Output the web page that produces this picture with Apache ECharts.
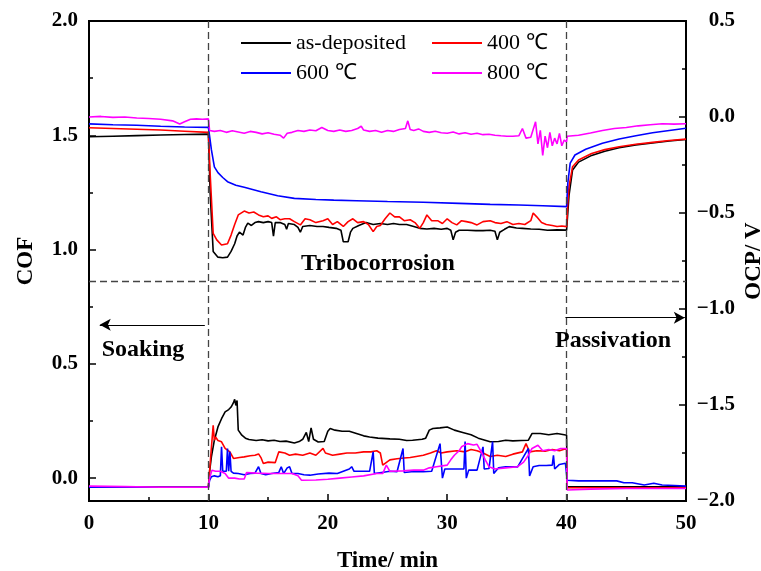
<!DOCTYPE html>
<html>
<head>
<meta charset="utf-8">
<script src="https://cdn.jsdelivr.net/npm/echarts@6/dist/echarts.min.js"></script>
<style>html,body{margin:0;padding:0;background:#fff}#c{width:761px;height:571px}</style>
</head>
<body>
<div id="c"></div>
<script>
// ---- Data (time in min) ----
const seriesNames = ['as-deposited', '400 ℃', '600 ℃', '800 ℃'];
const seriesColors = ['#000000', '#ff0000', '#0000ff', '#ff00ff'];
const xTicks = [0, 10, 20, 30, 40, 50];
const cofTicks = [0, 0.5, 1.0, 1.5, 2.0];
const cofMinorTicks = [0.25, 0.75, 1.25, 1.75];

// OCP (V), right axis
const ocpAsDep = [[0,-0.103],[2,-0.1],[4,-0.097],[6,-0.094],[8,-0.091],[10,-0.089],[10.15,-0.4],[10.4,-0.7],[10.8,-0.73],[11.2,-0.733],[11.6,-0.73],[11.9,-0.7],[12.2,-0.66],[12.4,-0.62],[12.6,-0.6],[12.7,-0.59],[12.9,-0.615],[13.1,-0.575],[13.3,-0.553],[13.6,-0.565],[13.9,-0.55],[14.2,-0.545],[14.6,-0.55],[15,-0.545],[15.3,-0.55],[15.45,-0.62],[15.6,-0.55],[16,-0.55],[16.4,-0.56],[16.55,-0.585],[16.7,-0.555],[17.2,-0.56],[17.5,-0.575],[17.7,-0.6],[17.9,-0.57],[18.5,-0.565],[19.1,-0.57],[19.6,-0.57],[20.1,-0.575],[20.7,-0.58],[21.1,-0.59],[21.3,-0.65],[21.7,-0.65],[21.9,-0.6],[22.1,-0.58],[22.6,-0.565],[23.2,-0.55],[23.8,-0.56],[24.4,-0.555],[25,-0.56],[25.5,-0.555],[26,-0.56],[26.6,-0.56],[27.2,-0.57],[27.7,-0.58],[28.3,-0.583],[28.9,-0.58],[29.5,-0.585],[30,-0.58],[30.3,-0.59],[30.5,-0.64],[30.7,-0.6],[31,-0.59],[31.7,-0.59],[32.4,-0.592],[33,-0.592],[33.6,-0.59],[34,-0.595],[34.2,-0.64],[34.4,-0.6],[34.8,-0.585],[35.2,-0.571],[35.8,-0.578],[36.3,-0.58],[37,-0.583],[37.7,-0.585],[38.4,-0.59],[39.2,-0.588],[40,-0.589],[40.1,-0.5],[40.2,-0.41],[40.5,-0.276],[41,-0.235],[42.1,-0.2],[43.2,-0.178],[44.4,-0.16],[45.8,-0.145],[47.2,-0.135],[48.6,-0.125],[50,-0.117]];
const ocp400 = [[0,-0.056],[2,-0.06],[4,-0.064],[6,-0.068],[8,-0.074],[10,-0.08],[10.15,-0.3],[10.4,-0.606],[10.7,-0.64],[11.1,-0.667],[11.6,-0.66],[11.9,-0.615],[12.2,-0.56],[12.5,-0.51],[13,-0.49],[13.4,-0.5],[13.8,-0.495],[14.2,-0.51],[14.6,-0.52],[15,-0.515],[15.3,-0.528],[15.7,-0.52],[16,-0.535],[16.4,-0.53],[16.8,-0.53],[17.2,-0.545],[17.7,-0.562],[18.1,-0.53],[18.5,-0.535],[19,-0.55],[19.6,-0.54],[20,-0.53],[20.4,-0.56],[20.8,-0.545],[21.3,-0.57],[21.7,-0.545],[22.1,-0.53],[22.5,-0.55],[23,-0.545],[23.4,-0.56],[23.8,-0.597],[24.1,-0.57],[24.4,-0.565],[24.8,-0.53],[25.2,-0.5],[25.6,-0.52],[26,-0.52],[26.4,-0.54],[26.9,-0.535],[27.3,-0.55],[27.7,-0.58],[28,-0.55],[28.3,-0.51],[28.7,-0.54],[29.2,-0.54],[29.6,-0.555],[30,-0.53],[30.4,-0.55],[30.8,-0.562],[31.2,-0.54],[31.6,-0.545],[32,-0.55],[32.5,-0.562],[33,-0.545],[33.6,-0.54],[34,-0.55],[34.5,-0.555],[35,-0.545],[35.5,-0.56],[36,-0.555],[36.5,-0.56],[37,-0.54],[37.2,-0.5],[37.5,-0.52],[37.9,-0.55],[38.3,-0.56],[38.8,-0.565],[39.2,-0.57],[39.6,-0.568],[40,-0.571],[40.1,-0.45],[40.2,-0.363],[40.5,-0.259],[41,-0.224],[42.1,-0.19],[43.2,-0.17],[44.4,-0.155],[45.8,-0.142],[47.2,-0.132],[48.6,-0.122],[50,-0.115]];
const ocp600 = [[0,-0.036],[2,-0.04],[4,-0.043],[6,-0.048],[8,-0.052],[10,-0.054],[10.1,-0.1],[10.25,-0.17],[10.5,-0.26],[10.8,-0.29],[11.2,-0.315],[11.6,-0.337],[12.3,-0.355],[13,-0.366],[14.4,-0.389],[15.8,-0.41],[17.2,-0.424],[19,-0.43],[20.5,-0.433],[22.4,-0.436],[25,-0.44],[28,-0.444],[31,-0.45],[33.6,-0.455],[36,-0.458],[38,-0.462],[40,-0.467],[40.1,-0.345],[40.3,-0.24],[40.7,-0.198],[41.6,-0.168],[43,-0.137],[44.4,-0.115],[45.8,-0.098],[47.2,-0.082],[48.6,-0.07],[50,-0.059]];
const ocp800 = [[0,0.0],[1,0.003],[2,-0.002],[3,0.0],[4,-0.005],[5,-0.008],[6,-0.012],[7,-0.02],[7.6,-0.036],[8,-0.025],[8.5,-0.012],[9,-0.01],[9.5,-0.012],[10,-0.01],[10.1,-0.07],[10.5,-0.075],[11,-0.07],[11.5,-0.08],[12,-0.072],[12.5,-0.078],[13,-0.085],[13.5,-0.075],[14,-0.08],[14.5,-0.088],[15,-0.082],[15.5,-0.09],[16,-0.095],[16.3,-0.11],[16.6,-0.085],[17,-0.08],[17.5,-0.07],[18,-0.075],[18.5,-0.068],[19,-0.072],[19.5,-0.055],[20,-0.07],[20.5,-0.075],[21,-0.068],[21.5,-0.075],[22,-0.07],[22.5,-0.06],[22.8,-0.048],[23,-0.068],[23.5,-0.075],[24,-0.07],[24.5,-0.08],[25,-0.07],[25.5,-0.075],[26,-0.065],[26.5,-0.06],[26.7,-0.02],[26.9,-0.065],[27.2,-0.07],[27.6,-0.062],[28,-0.075],[28.5,-0.08],[29,-0.074],[29.5,-0.082],[30,-0.085],[30.5,-0.078],[31,-0.088],[31.5,-0.082],[32,-0.09],[32.5,-0.085],[33,-0.092],[33.5,-0.09],[34,-0.095],[34.5,-0.098],[35,-0.1],[35.5,-0.1],[36,-0.098],[36.3,-0.06],[36.6,-0.11],[37,-0.105],[37.4,-0.025],[37.6,-0.14],[37.8,-0.07],[38,-0.2],[38.2,-0.1],[38.4,-0.16],[38.6,-0.08],[38.8,-0.15],[39,-0.11],[39.2,-0.14],[39.4,-0.085],[39.6,-0.15],[39.8,-0.12],[40,-0.13],[40.05,-0.1],[41,-0.095],[42,-0.083],[43,-0.07],[44,-0.06],[45,-0.055],[46,-0.046],[47,-0.04],[48,-0.035],[49,-0.037],[50,-0.035]];

// COF, left axis
const cofAsDep = [[0,-0.04],[5,-0.04],[10,-0.04],[10.1,0.03],[10.25,0.093],[10.5,0.166],[10.8,0.224],[11.1,0.26],[11.4,0.29],[11.7,0.3],[11.9,0.311],[12.1,0.33],[12.2,0.345],[12.3,0.318],[12.4,0.34],[12.5,0.21],[12.8,0.188],[13.1,0.175],[13.4,0.169],[14,0.165],[14.5,0.168],[15,0.163],[15.5,0.166],[16,0.16],[16.5,0.162],[17.2,0.154],[17.6,0.16],[17.9,0.17],[18.2,0.2],[18.4,0.16],[18.6,0.22],[18.8,0.17],[19.2,0.158],[19.7,0.16],[20,0.205],[20.2,0.217],[20.6,0.21],[21.2,0.205],[21.8,0.205],[22.4,0.195],[23,0.185],[23.5,0.18],[24.2,0.175],[25.2,0.172],[26,0.17],[26.6,0.165],[27.1,0.166],[27.9,0.17],[28.2,0.175],[28.5,0.21],[28.8,0.217],[29.4,0.22],[30,0.224],[30.6,0.21],[31.3,0.2],[32,0.19],[32.6,0.175],[33.6,0.159],[34.3,0.16],[34.9,0.166],[35.5,0.163],[36.2,0.165],[36.8,0.166],[37.1,0.195],[37.8,0.195],[38.5,0.19],[39.2,0.195],[39.8,0.19],[40,0.188],[40.05,-0.038],[45,-0.038],[50,-0.038]];
const cof400 = [[0,-0.04],[5,-0.04],[10,-0.04],[10.2,0.1],[10.4,0.231],[10.5,0.166],[10.6,0.18],[10.8,0.165],[11.1,0.159],[11.4,0.13],[11.8,0.115],[12.1,0.086],[12.6,0.09],[13,0.093],[13.5,0.098],[13.9,0.1],[14.2,0.106],[14.4,0.09],[14.6,0.064],[15,0.07],[15.6,0.068],[15.9,0.115],[16.4,0.11],[16.8,0.1],[17.3,0.105],[17.9,0.1],[18.5,0.11],[19,0.1],[19.6,0.13],[19.8,0.11],[20.4,0.1],[21,0.105],[21.6,0.11],[22.3,0.11],[23,0.115],[23.6,0.115],[24.1,0.12],[24.4,0.11],[24.6,0.057],[25.2,0.08],[25.8,0.085],[26.4,0.088],[26.9,0.09],[27.4,0.095],[28,0.1],[28.6,0.11],[29.1,0.12],[29.5,0.11],[30,0.115],[30.8,0.12],[31.5,0.115],[32,0.125],[32.5,0.12],[33,0.11],[33.6,0.095],[34.2,0.1],[34.9,0.095],[35.5,0.105],[36.3,0.115],[36.6,0.151],[36.9,0.115],[37.5,0.12],[38.2,0.118],[38.8,0.125],[39.4,0.12],[40,0.13],[40.05,-0.042],[45,-0.042],[50,-0.042]];
const cof600 = [[0,-0.04],[5,-0.04],[10,-0.04],[10.1,-0.01],[10.25,0.006],[10.5,0.01],[10.8,0.006],[11.0,0.01],[11.1,0.137],[11.2,0.03],[11.5,0.03],[11.6,0.13],[11.7,0.03],[11.8,0.115],[11.9,0.03],[12.1,0.022],[12.5,0.02],[13,0.015],[13.5,0.02],[13.9,0.022],[14.2,0.05],[14.4,0.02],[14.8,0.015],[15.3,0.02],[15.9,0.025],[16.1,0.05],[16.3,0.02],[16.6,0.045],[16.8,0.05],[17,0.02],[17.5,0.02],[18,0.015],[18.5,0.013],[19.2,0.018],[20.1,0.022],[20.8,0.02],[21.3,0.03],[21.8,0.04],[22,0.05],[22.2,0.03],[23,0.03],[23.5,0.03],[23.8,0.115],[23.9,0.02],[24.5,0.025],[25.2,0.03],[25.8,0.028],[26.3,0.13],[26.4,0.025],[27,0.028],[28,0.028],[28.7,0.03],[29.4,0.151],[29.6,0.0],[29.8,0.04],[30.5,0.04],[31.4,0.04],[31.5,0.16],[31.6,0.0],[31.8,0.035],[32.5,0.035],[33,0.137],[33.1,0.04],[33.5,0.042],[33.8,0.16],[33.9,0.02],[34.3,0.045],[34.9,0.05],[35.5,0.05],[35.9,0.049],[36.8,0.13],[36.9,0.01],[37.2,0.05],[37.7,0.055],[38.3,0.055],[38.8,0.057],[38.9,0.1],[39.0,0.04],[39.4,0.06],[39.9,0.065],[40,0.073],[40.05,-0.009],[41,-0.012],[42,-0.012],[43,-0.012],[44.2,-0.012],[44.8,-0.02],[45.5,-0.02],[46.5,-0.03],[47.3,-0.022],[48,-0.03],[49,-0.032],[50,-0.035]];
const cof800 = [[0,-0.035],[3,-0.037],[6,-0.04],[10,-0.04],[10.1,0.0],[10.3,0.035],[10.6,0.03],[11,0.03],[11.4,0.02],[11.7,0.0],[12.2,0.0],[12.6,-0.004],[13,-0.004],[13.2,0.025],[14,0.022],[15,0.02],[16,0.02],[17,0.02],[17.5,0.01],[17.8,-0.009],[19,-0.008],[20,-0.005],[21,0.0],[22,0.005],[23,0.01],[24.1,0.02],[24.6,0.02],[24.9,0.057],[25.2,0.03],[26.3,0.032],[27.2,0.035],[28,0.035],[28.5,0.045],[29.1,0.05],[30,0.057],[30.3,0.08],[30.6,0.1],[31,0.12],[31.2,0.137],[31.7,0.151],[32.2,0.145],[32.5,0.148],[32.8,0.12],[33.2,0.079],[33.5,0.05],[34,0.04],[34.9,0.045],[35.9,0.05],[36.4,0.07],[36.8,0.1],[37.1,0.13],[37.6,0.144],[38,0.12],[38.5,0.125],[39,0.12],[39.5,0.13],[40,0.13],[40.05,-0.052],[42,-0.048],[45,-0.045],[50,-0.045]];

// annotation values (data coordinates)
const phaseBounds = [10, 40];
const dividerCOF = 0.856;
const soakArrow = {from: 9.7, to: 0.9, y: 0.671};
const passArrow = {from: 39.9, to: 49.9, y: 0.702};

const ocpSets = [ocpAsDep, ocp400, ocp600, ocp800];
const cofSets = [cofAsDep, cof400, cof600, cof800];

const FONT = '"Liberation Serif","Times New Roman",serif';

const series = [];
seriesNames.forEach((name, i) => {
  series.push({
    name, type: 'line', yAxisIndex: 1, data: ocpSets[i], symbol: 'none',
    lineStyle: {color: seriesColors[i], width: 1.6}, itemStyle: {color: seriesColors[i]},
    animation: false, z: 3
  });
});
seriesNames.forEach((name, i) => {
  series.push({
    name, type: 'line', yAxisIndex: 0, data: cofSets[i], symbol: 'none',
    lineStyle: {color: seriesColors[i], width: 1.6}, itemStyle: {color: seriesColors[i]},
    animation: false, z: 3
  });
});
// helper series for divider lines & arrows
series.push({
  type: 'line', yAxisIndex: 0, data: [], symbol: 'none', animation: false, silent: true,
  markLine: {
    silent: true, symbol: ['none', 'none'], animation: false,
    label: {show: false},
    lineStyle: {color: '#444', type: [7, 4], width: 1.3},
    data: [
      {xAxis: phaseBounds[0]}, {xAxis: phaseBounds[1]}, {yAxis: dividerCOF}
    ]
  }
});
series.push({
  type: 'line', yAxisIndex: 0, data: [], symbol: 'none', animation: false, silent: true,
  markLine: {
    silent: true, symbol: ['none', 'arrow'], symbolSize: [9, 11], animation: false,
    label: {show: false},
    lineStyle: {color: '#000', type: 'solid', width: 1.2},
    data: [
      [{coord: [soakArrow.from, soakArrow.y]}, {coord: [soakArrow.to, soakArrow.y]}],
      [{coord: [passArrow.from, passArrow.y]}, {coord: [passArrow.to, passArrow.y]}]
    ]
  }
});

const axisLineStyle = {onZero: false, lineStyle: {color: '#000', width: 2}};
const labelStyle = {color: '#000', fontFamily: FONT, fontWeight: 'bold', fontSize: 21};
const nameStyle = {color: '#000', fontFamily: FONT, fontWeight: 'bold', fontSize: 23};

const legendCommon = {
  orient: 'vertical', top: 32, itemWidth: 50, itemHeight: 2, itemGap: 8, padding: 0,
  icon: 'rect',
  textStyle: {fontFamily: FONT, fontSize: 22, color: '#000', lineHeight: 21},
  selectedMode: false
};

const annFont = 'bold 24px ' + FONT;

const option = {
  backgroundColor: '#fff',
  animation: false,
  grid: {left: 89, right: 75, top: 21, bottom: 70, outerBoundsMode: 'none', containLabel: false,
         show: true, borderColor: '#000', borderWidth: 2, backgroundColor: 'transparent'},
  legend: [
    Object.assign({}, legendCommon, {left: 241, data: [seriesNames[0], seriesNames[2]]}),
    Object.assign({}, legendCommon, {left: 432, data: [seriesNames[1], seriesNames[3]]})
  ],
  xAxis: {
    type: 'value', min: xTicks[0], max: xTicks[xTicks.length - 1], interval: 10,
    name: 'Time/ min', nameLocation: 'middle', nameGap: 49, nameMoveOverlap: false, nameTextStyle: nameStyle,
    axisLine: axisLineStyle,
    axisTick: {inside: true, length: 7, lineStyle: {color: '#000', width: 1.5}},
    minorTick: {show: true, splitNumber: 2, length: 4, lineStyle: {color: '#000', width: 1.5}},
    axisLabel: Object.assign({margin: 12}, labelStyle),
    splitLine: {show: false}
  },
  yAxis: [
    {
      type: 'value', min: -0.1, max: 2.0, position: 'left',
      name: 'COF', nameLocation: 'middle', nameGap: 51, nameMoveOverlap: false, nameTextStyle: nameStyle,
      axisLine: axisLineStyle,
      axisTick: {inside: true, length: 7, customValues: cofTicks, lineStyle: {color: '#000', width: 1.5}},
      axisLabel: Object.assign({margin: 11, customValues: cofTicks, formatter: v => v.toFixed(1)}, labelStyle),
      splitLine: {show: false}
    },
    {
      type: 'value', min: -2.0, max: 0.5, interval: 0.5, position: 'right',
      name: 'OCP/ V', nameLocation: 'middle', nameGap: 57, nameMoveOverlap: false, nameTextStyle: nameStyle,
      axisLine: axisLineStyle,
      axisTick: {inside: true, length: 7, lineStyle: {color: '#000', width: 1.5}},
      minorTick: {show: true, splitNumber: 2, length: 4, lineStyle: {color: '#000', width: 1.5}},
      axisLabel: Object.assign({margin: 49, align: 'right', formatter: v => (v < 0 ? '\u2212' : '') + Math.abs(v).toFixed(1)}, labelStyle),
      splitLine: {show: false}
    },
    {
      type: 'value', min: -0.1, max: 2.0, position: 'left',
      axisLine: {show: false, onZero: false},
      axisTick: {inside: true, length: 4, customValues: cofMinorTicks, lineStyle: {color: '#000', width: 1.5}},
      axisLabel: {show: false},
      splitLine: {show: false}
    }
  ],
  graphic: [
    {type: 'text', x: 378, y: 264, z: 10, style: {text: 'Tribocorrosion', font: annFont, fill: '#000', align: 'center', verticalAlign: 'middle'}},
    {type: 'text', x: 143, y: 350, z: 10, style: {text: 'Soaking', font: annFont, fill: '#000', align: 'center', verticalAlign: 'middle'}},
    {type: 'text', x: 613, y: 341, z: 10, style: {text: 'Passivation', font: annFont, fill: '#000', align: 'center', verticalAlign: 'middle'}}
  ],
  series
};

const chart = echarts.init(document.getElementById('c'), null, {renderer: 'canvas'});
chart.setOption(option);
</script>
</body>
</html>
